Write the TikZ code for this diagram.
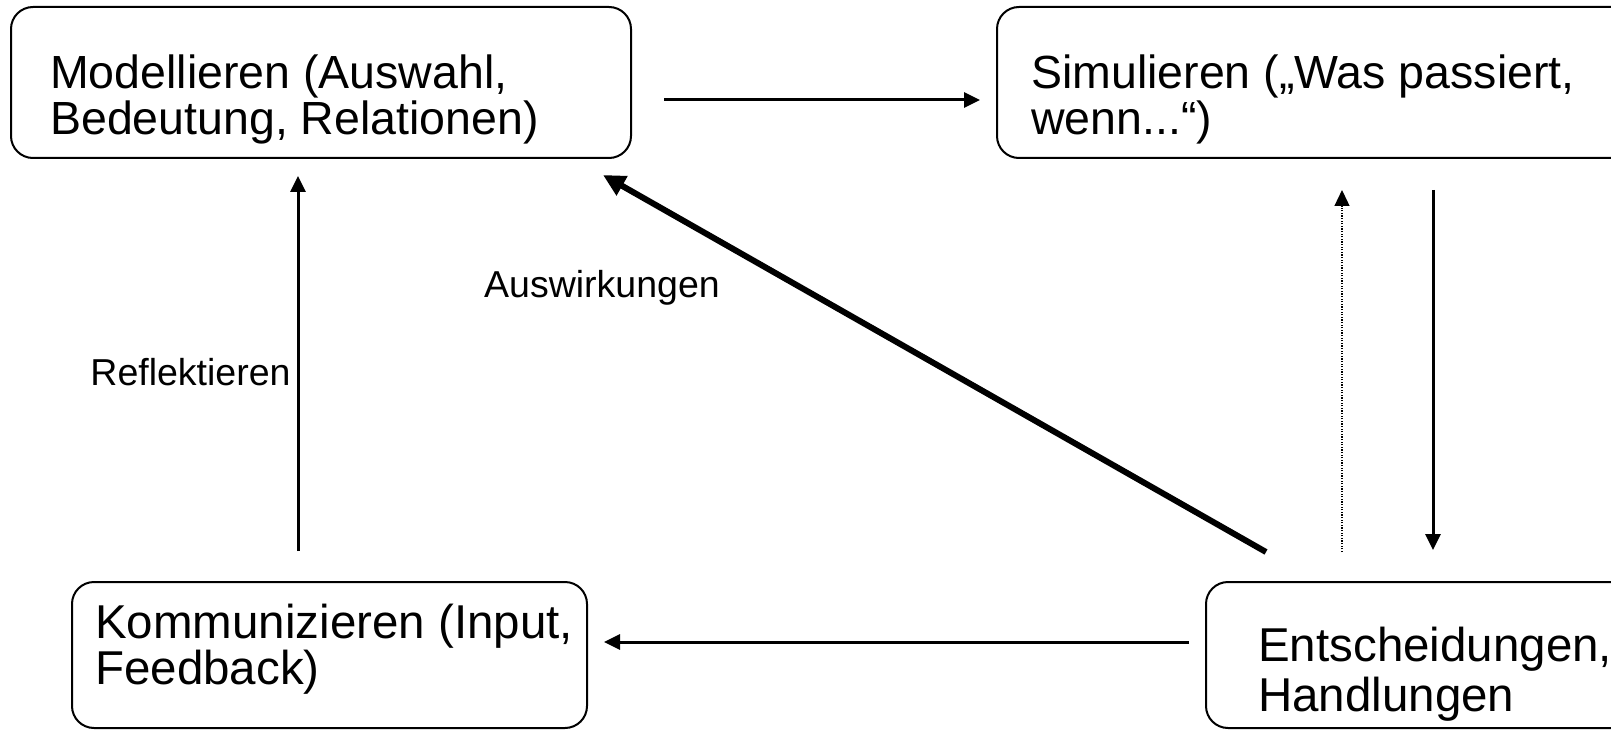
\documentclass[tikz,border=0pt]{standalone}
\usepackage{fontspec}
\setmainfont{Liberation Sans}
\usetikzlibrary{arrows.meta,calc}
\tikzset{
  box/.style={draw, line width=2pt, rounded corners=22pt, inner sep=0pt},
  txt/.style={inner sep=0pt, align=left, anchor=base west},
  lbl/.style={inner sep=0pt, anchor=base, font=\fontsize{37.5}{40}\selectfont},
  arr/.style={line width=3pt, -{Triangle[length=16pt,width=15pt]}},
  thickarr/.style={line width=6pt, -{Triangle[length=22pt,width=21pt]}},
  dotarr/.style={line width=1.3pt, dash pattern=on 1.3pt off 1.3pt, -{Triangle[length=16pt,width=15pt]}},
}
\begin{document}
\begin{tikzpicture}[x=1pt,y=-1pt]
\useasboundingbox (0,0) rectangle (1611,730);
% boxes
\node[box, minimum width=620pt, minimum height=151pt] (m) at (321,82.5) {};
\node[box, minimum width=643pt, minimum height=151pt] (s) at (1318.5,82.5) {};
\node[box, minimum width=515pt, minimum height=146pt] (k) at (329.5,655) {};
\node[box, minimum width=454pt, minimum height=146pt] (e) at (1433,655) {};
% texts (base anchor = last line)
\node[txt, font=\fontsize{46.5}{46}\selectfont] (mt) at (50,135) {Modellieren (Auswahl,\\Bedeutung, Relationen)};
\node[txt, font=\fontsize{46.5}{46}\selectfont] (st) at (1031,135) {Simulieren („Was passiert,\\wenn...“)};
\node[txt, font=\fontsize{47.5}{46}\selectfont] (kt) at (95,684) {Kommunizieren (Input,\\Feedback)};
\node[txt, font=\fontsize{47.5}{50}\selectfont] (et) at (1258,711) {Entscheidungen,\\Handlungen};
% labels
\node[lbl] (lr) at (190.5,385) {Reflektieren};
\node[lbl] (la) at (602,297) {Auswirkungen};
% connectors
\draw[arr] ($(m.east)+(32,17.5)$) -- ($(s.west)+(-16,17.5)$);
\draw[arr] ($(s.south)+(114.5,31)$) -- ($(e.north)+(0,-31)$);
\draw[dotarr] ($(e.north)+(-91,-29)$) -- ($(s.south)+(23.5,31)$);
\draw[thickarr] ($(e.north west)+(61,-29)$) -- ($(m.south east)+(-29,16)$);
\draw[arr] ($(e.west)+(-16,-13)$) -- ($(k.east)+(16,-13)$);
\draw[arr] ($(k.north west)+(227,-30)$) -- ($(m.south west)+(288,17)$);
\end{tikzpicture}
\end{document}
